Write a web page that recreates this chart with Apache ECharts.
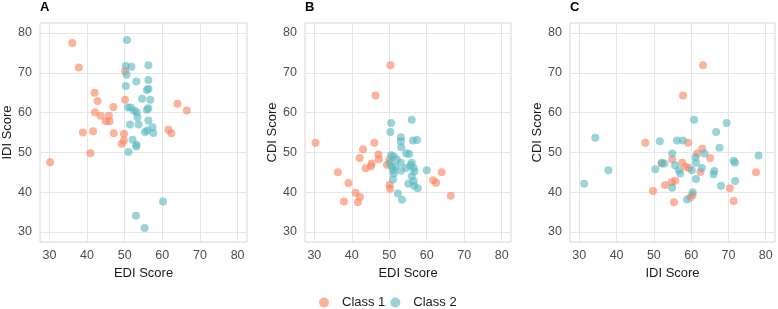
<!DOCTYPE html>
<html>
<head>
<meta charset="utf-8">
<title>EDI / IDI / CDI scatter</title>
<script src="https://cdn.jsdelivr.net/npm/echarts@6/dist/echarts.min.js"></script>
<style>
  html, body { margin: 0; padding: 0; background: #fff; }
  #chart { width: 778px; height: 309px; }
</style>
</head>
<body>
<div id="chart"></div>
<script>
// tick labels shared by every axis
const ticks = [30, 40, 50, 60, 70, 80]

// panel A: EDI (x) vs IDI (y)
const aClass1 = [
    [36.1, 77.5], [37.8, 71.3], [50.1, 70.4], [42.0, 65.0], [42.8, 62.9], [50.1, 63.2],
    [47.0, 61.4], [64.0, 62.2], [66.5, 60.5], [42.1, 60.1], [43.6, 59.2], [45.8, 59.2],
    [46.0, 57.8], [45.0, 57.8], [38.9, 55.0], [41.6, 55.3], [47.1, 54.8], [49.8, 54.7],
    [49.2, 52.2], [49.8, 53.0], [61.6, 55.7], [62.4, 54.8], [40.9, 49.8], [30.2, 47.5]
]
const aClass2 = [
    [50.6, 78.2], [50.3, 71.7], [51.8, 71.5], [56.3, 71.9], [50.5, 69.5], [53.1, 67.8],
    [56.3, 68.2], [50.3, 66.7], [56.3, 66.0], [55.9, 65.7], [54.6, 63.5], [56.8, 63.2],
    [50.9, 61.3], [51.6, 61.3], [56.3, 61.1], [55.9, 60.7], [52.5, 60.5], [53.2, 60.1],
    [53.4, 58.8], [56.3, 58.0], [51.4, 57.0], [53.7, 57.0], [57.4, 56.3], [57.6, 54.9],
    [55.4, 55.1], [56.0, 55.5], [52.1, 53.2], [53.1, 51.9], [53.1, 51.5], [51.0, 50.1],
    [60.2, 37.7], [53.0, 34.1], [55.3, 31.0]
]

// panel B: EDI (x) vs CDI (y)
const bClass1 = [
    [30.3, 52.4], [36.3, 45.0], [37.9, 37.7], [39.1, 42.3], [41.0, 39.9], [41.6, 37.5],
    [42.2, 38.8], [42.1, 48.6], [43.0, 50.8], [43.7, 46.0], [45.1, 46.5], [45.3, 47.2],
    [46.0, 52.4], [46.3, 64.3], [47.1, 49.5], [47.2, 48.3], [49.4, 46.9], [50.1, 48.2],
    [50.3, 71.9], [50.1, 41.9], [50.2, 40.9], [61.7, 43.0], [62.5, 42.4], [64.0, 45.0],
    [66.4, 39.1]
]
const bClass2 = [
    [56.0, 58.2], [50.5, 57.4], [50.3, 55.1], [53.1, 53.8], [53.1, 52.8], [56.3, 53.0],
    [57.4, 53.1], [53.2, 51.3], [54.5, 49.8], [55.3, 49.6], [50.5, 49.3], [51.2, 49.0],
    [52.0, 48.2], [50.1, 47.4], [53.1, 47.4], [56.0, 47.4], [50.7, 46.4], [51.6, 46.4],
    [54.5, 46.1], [56.5, 46.1], [55.7, 46.8], [60.0, 45.5], [53.1, 45.4], [51.0, 45.5],
    [51.2, 44.7], [56.7, 45.2], [56.0, 44.0], [51.0, 43.2], [56.5, 42.8], [55.1, 42.1],
    [56.6, 41.6], [57.6, 41.0], [52.3, 39.7], [53.4, 38.1]
]

// panel C: IDI (x) vs CDI (y)
const cClass1 = [
    [63.2, 71.9], [57.8, 64.3], [47.7, 52.4], [59.2, 52.4], [63.0, 50.9], [61.6, 49.7],
    [65.1, 48.6], [54.9, 48.2], [57.6, 47.4], [58.5, 46.4], [59.4, 46.1], [62.5, 45.1],
    [52.1, 47.2], [77.4, 45.0], [55.7, 42.9], [54.8, 42.5], [53.0, 41.8], [49.8, 40.3],
    [60.4, 39.3], [59.8, 38.7], [55.4, 37.5], [70.4, 41.0], [71.4, 37.8]
]
const cClass2 = [
    [31.3, 42.1], [34.3, 53.7], [37.8, 45.5], [50.4, 45.8], [51.6, 52.8], [52.1, 47.4],
    [52.8, 47.2], [54.9, 49.7], [55.7, 46.8], [54.9, 41.1], [56.2, 53.0], [57.8, 53.0],
    [57.1, 44.7], [56.7, 45.5], [60.2, 45.5], [60.8, 58.2], [61.2, 48.8], [61.3, 47.4],
    [61.3, 43.3], [60.4, 40.0], [58.9, 38.2], [62.9, 46.1], [63.6, 49.7], [66.0, 44.5],
    [66.2, 45.3], [66.7, 55.1], [67.6, 51.2], [68.0, 41.6], [69.5, 57.4], [71.4, 47.9],
    [71.8, 47.4], [71.8, 42.8], [78.1, 49.2]
]

const panels = [
    { title: 'A', xName: 'EDI Score', yName: 'IDI Score', left: 40, width: 207, c1: aClass1, c2: aClass2 },
    { title: 'B', xName: 'EDI Score', yName: 'CDI Score', left: 305, width: 206, c1: bClass1, c2: bClass2 },
    { title: 'C', xName: 'IDI Score', yName: 'CDI Score', left: 570, width: 205, c1: cClass1, c2: cClass2 }
]

const col1 = 'rgba(251, 135, 100, 0.8)'
const col2 = 'rgba(86, 184, 190, 0.75)'
const font = 'Liberation Sans, Arial, sans-serif'

function makeAxis(name, gridIndex, isX) {
    return {
        type: 'value',
        gridIndex: gridIndex,
        min: 27.5,
        max: 82.5,
        name: name,
        nameLocation: 'middle',
        nameGap: isX ? 21 : 26,
        nameTextStyle: { color: '#1a1a1a', fontSize: 13, fontFamily: font },
        axisLine: { show: false },
        axisTick: { show: false, customValues: ticks },
        axisLabel: {
            customValues: ticks,
            color: '#4d4d4d',
            fontSize: 12.5,
            fontFamily: font,
            margin: isX ? 7 : 8
        },
        splitLine: { show: true, lineStyle: { color: '#e6e6e6', width: 1 } }
    }
}

let chart = echarts.init(document.getElementById('chart'), null, { renderer: 'canvas' })

let option = {
    backgroundColor: '#fff',
    animation: false,
    title: panels.map(p => ({
        text: p.title,
        left: p.left - 5,
        top: -4,
        textStyle: { fontSize: 13, fontWeight: 'bold', color: '#000', fontFamily: font }
    })),
    legend: {
        data: ['Class 1', 'Class 2'],
        left: 314,
        top: 291,
        icon: 'circle',
        itemWidth: 26,
        itemHeight: 10,
        itemGap: 5,
        textStyle: { fontSize: 13, color: '#1a1a1a', fontFamily: font }
    },
    grid: panels.map(p => ({
        left: p.left,
        top: 23,
        width: p.width,
        height: 219,
        show: true,
        borderColor: '#d6d6d6',
        borderWidth: 1,
        backgroundColor: 'transparent'
    })),
    xAxis: panels.map((p, i) => makeAxis(p.xName, i, true)),
    yAxis: panels.map((p, i) => makeAxis(p.yName, i, false)),
    series: []
}

panels.forEach((p, i) => {
    option.series.push({
        name: 'Class 1',
        type: 'scatter',
        xAxisIndex: i,
        yAxisIndex: i,
        symbolSize: 8,
        itemStyle: { color: col1 },
        data: p.c1
    })
    option.series.push({
        name: 'Class 2',
        type: 'scatter',
        xAxisIndex: i,
        yAxisIndex: i,
        symbolSize: 8,
        itemStyle: { color: col2 },
        data: p.c2
    })
})

chart.setOption(option)
</script>
</body>
</html>
